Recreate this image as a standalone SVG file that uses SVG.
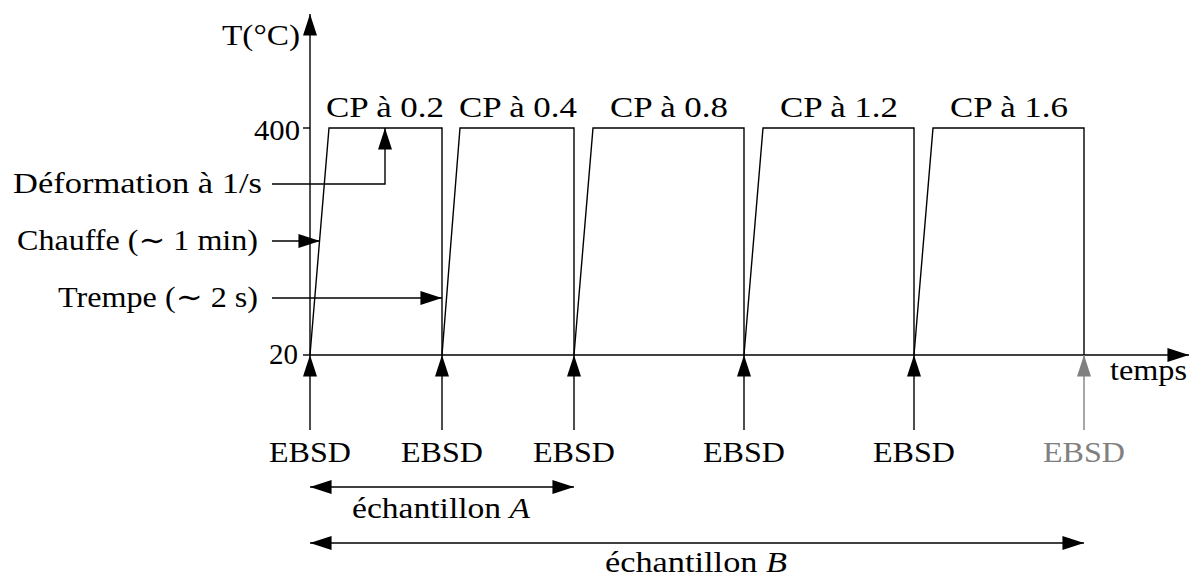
<svg xmlns="http://www.w3.org/2000/svg" width="1189" height="578" viewBox="0 0 1189 578">
<style>
text{font-family:"Liberation Serif","DejaVu Serif","Times New Roman",serif;font-size:29px;fill:#000}
.ln{stroke:#000;stroke-width:1.4;fill:none}
.gray{stroke:#808080}
.gt{fill:#808080}
</style>
<defs>
<marker id="ah" markerUnits="userSpaceOnUse" markerWidth="22" markerHeight="14" refX="20" refY="6.5" orient="auto-start-reverse" viewBox="0 0 20 13">
<path d="M0,0 L20,6.5 L0,13 Z" fill="#000"/>
</marker>
<marker id="ahg" markerUnits="userSpaceOnUse" markerWidth="22" markerHeight="14" refX="20" refY="6.5" orient="auto" viewBox="0 0 20 13">
<path d="M0,0 L20,6.5 L0,13 Z" fill="#808080"/>
</marker>
</defs>
<g id="axes">
<line class="ln" x1="310" y1="355" x2="310" y2="14" marker-end="url(#ah)"/>
<line class="ln" x1="310" y1="355" x2="1189" y2="355" marker-end="url(#ah)"/>
<line class="ln" x1="303" y1="128" x2="310" y2="128"/>
<line class="ln" x1="303" y1="355" x2="310" y2="355"/>
<text x="222" y="45" textLength="78" lengthAdjust="spacingAndGlyphs">T(°C)</text>
<text x="254" y="140" textLength="46" lengthAdjust="spacingAndGlyphs">400</text>
<text x="269" y="364" textLength="29" lengthAdjust="spacingAndGlyphs">20</text>
<text x="1110" y="380" textLength="77" lengthAdjust="spacingAndGlyphs">temps</text>
</g>
<g id="cycles">
<polyline class="ln" points="310,355 329,128 442,128 442,355"/>
<polyline class="ln" points="442,355 460,128 574,128 574,355"/>
<polyline class="ln" points="574,355 593,128 744,128 744,355"/>
<polyline class="ln" points="744,355 763,128 914,128 914,355"/>
<polyline class="ln" points="914,355 933,128 1084,128 1084,355"/>
<text x="326" y="117" textLength="118" lengthAdjust="spacingAndGlyphs">CP à 0.2</text>
<text x="459" y="117" textLength="118" lengthAdjust="spacingAndGlyphs">CP à 0.4</text>
<text x="610" y="117" textLength="118" lengthAdjust="spacingAndGlyphs">CP à 0.8</text>
<text x="780" y="117" textLength="118" lengthAdjust="spacingAndGlyphs">CP à 1.2</text>
<text x="950" y="117" textLength="118" lengthAdjust="spacingAndGlyphs">CP à 1.6</text>
</g>
<g id="labels">
<text x="13" y="193" textLength="249" lengthAdjust="spacingAndGlyphs">Déformation à 1/s</text>
<text x="17" y="250" textLength="241" lengthAdjust="spacingAndGlyphs">Chauffe (∼ 1 min)</text>
<text x="58" y="307" textLength="200" lengthAdjust="spacingAndGlyphs">Trempe (∼ 2 s)</text>
</g>
<g id="ebsd">
<text x="269" y="462" textLength="82" lengthAdjust="spacingAndGlyphs">EBSD</text>
<text x="401" y="462" textLength="82" lengthAdjust="spacingAndGlyphs">EBSD</text>
<text x="533" y="462" textLength="82" lengthAdjust="spacingAndGlyphs">EBSD</text>
<text x="703" y="462" textLength="82" lengthAdjust="spacingAndGlyphs">EBSD</text>
<text x="873" y="462" textLength="82" lengthAdjust="spacingAndGlyphs">EBSD</text>
<text class="gt" x="1043" y="462" textLength="82" lengthAdjust="spacingAndGlyphs">EBSD</text>
</g>
<g id="samples">
<text x="352" y="518" textLength="178" lengthAdjust="spacingAndGlyphs">échantillon <tspan font-style="italic">A</tspan></text>
<text x="605" y="572" textLength="182" lengthAdjust="spacingAndGlyphs">échantillon <tspan font-style="italic">B</tspan></text>
</g>
<g id="connectors">
<polyline class="ln" points="272,184 385,184 385,128" marker-end="url(#ah)"/>
<line class="ln" x1="272" y1="241" x2="320" y2="241" marker-end="url(#ah)"/>
<line class="ln" x1="272" y1="298" x2="442" y2="298" marker-end="url(#ah)"/>
<line class="ln" x1="310" y1="430" x2="310" y2="355" marker-end="url(#ah)"/>
<line class="ln" x1="442" y1="430" x2="442" y2="355" marker-end="url(#ah)"/>
<line class="ln" x1="574" y1="430" x2="574" y2="355" marker-end="url(#ah)"/>
<line class="ln" x1="744" y1="430" x2="744" y2="355" marker-end="url(#ah)"/>
<line class="ln" x1="914" y1="430" x2="914" y2="355" marker-end="url(#ah)"/>
<line class="ln gray" x1="1084" y1="430" x2="1084" y2="355" marker-end="url(#ahg)"/>
<line class="ln" x1="310" y1="487" x2="574" y2="487" marker-start="url(#ah)" marker-end="url(#ah)"/>
<line class="ln" x1="310" y1="543" x2="1084" y2="543" marker-start="url(#ah)" marker-end="url(#ah)"/>
</g>
</svg>
